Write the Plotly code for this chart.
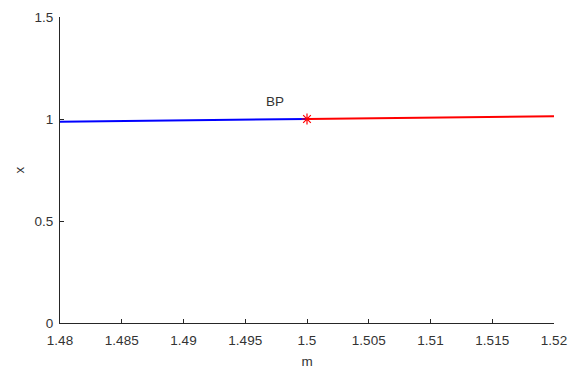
import plotly.graph_objects as go

m_blue = [1.48, 1.485, 1.49, 1.495, 1.5]
x_blue = [0.987, 0.990, 0.993, 0.997, 1.0]
m_red = [1.5, 1.505, 1.51, 1.515, 1.52]
x_red = [1.0, 1.003, 1.007, 1.010, 1.013]
bp_m = [1.5]
bp_x = [1.0]
bp_label = "BP"
bp_label_pos = (1.4974, 1.088)

x_ticks = [1.48, 1.485, 1.49, 1.495, 1.5, 1.505, 1.51, 1.515, 1.52]
x_ticktext = ["1.48", "1.485", "1.49", "1.495", "1.5", "1.505", "1.51", "1.515", "1.52"]
y_ticks = [0, 0.5, 1, 1.5]
y_ticktext = ["0", "0.5", "1", "1.5"]

FS = 13.5
TXT = "#333333"

fig = go.Figure()
fig.add_trace(go.Scatter(x=m_blue, y=x_blue, mode="lines",
                         line=dict(color="#0000ff", width=2), showlegend=False))
fig.add_trace(go.Scatter(x=m_red, y=x_red, mode="lines",
                         line=dict(color="#ff0000", width=2), showlegend=False))
fig.add_trace(go.Scatter(x=bp_m, y=bp_x, mode="markers",
                         marker=dict(symbol="asterisk-open", size=9, color="#ff0000",
                                     line=dict(color="#ff0000", width=1.2)),
                         showlegend=False))
fig.add_annotation(x=bp_label_pos[0], y=bp_label_pos[1], text=bp_label,
                   showarrow=False, xanchor="center", yanchor="middle",
                   font=dict(size=FS, color=TXT))

axis_common = dict(showline=True, linecolor="#262626", linewidth=1,
                   ticks="inside", ticklen=4, tickcolor="#262626",
                   showgrid=False, zeroline=False, mirror=False, automargin=False,
                   tickfont=dict(size=FS, color=TXT))
fig.update_xaxes(range=[1.48, 1.52], tickvals=x_ticks, ticktext=x_ticktext,
                 ticklabelstandoff=5,
                 title=dict(text="m", font=dict(size=FS, color=TXT), standoff=10),
                 **axis_common)
fig.update_yaxes(range=[0, 1.5], tickvals=y_ticks, ticktext=y_ticktext,
                 ticklabelstandoff=3,
                 title=dict(text="x", font=dict(size=FS, color=TXT), standoff=6),
                 **axis_common)
fig.update_layout(width=571, height=369,
                  margin=dict(l=60, r=17, t=17, b=46),
                  plot_bgcolor="white", paper_bgcolor="white",
                  font=dict(family="Liberation Sans, Arial, sans-serif", size=FS, color=TXT))
fig.write_html("out.html", config={"displayModeBar": False},
               post_script="document.body.style.margin='0';")
